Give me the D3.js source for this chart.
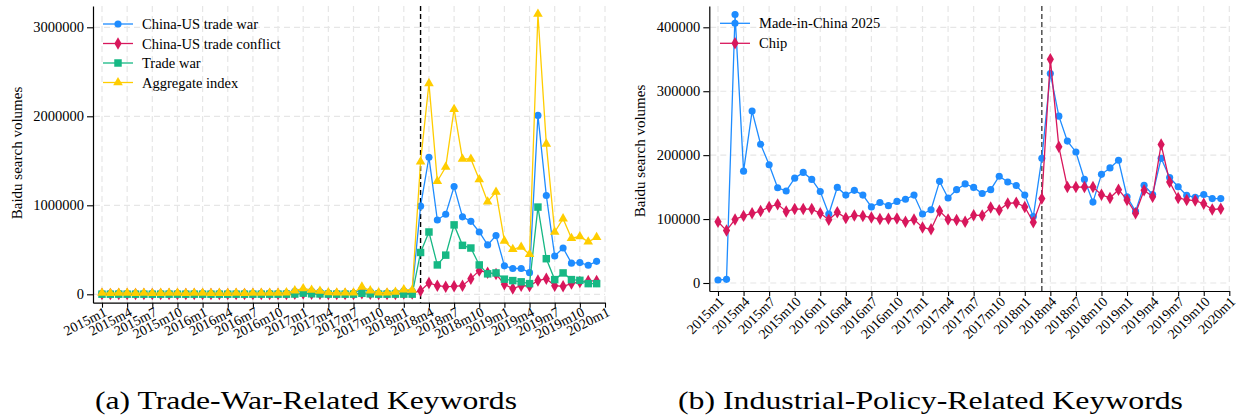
<!DOCTYPE html>
<html>
<head>
<meta charset="utf-8">
<script src="https://cdn.jsdelivr.net/npm/d3@7"></script>
<style>
  html, body { margin: 0; padding: 0; background: #fff; }
  svg { display: block; }
  text { font-family: "Liberation Serif", "Times New Roman", serif; fill: #000; }
</style>
</head>
<body>
<svg id="chart" width="1237" height="418"></svg>
<script>
// Monthly categories, 2015m1 .. 2019m12
const months = [];
for (let yr = 2015; yr <= 2019; yr++) for (let m = 1; m <= 12; m++) months.push(yr + "m" + m);

const xTickLabels = ["2015m1","2015m4","2015m7","2015m10","2016m1","2016m4","2016m7","2016m10",
  "2017m1","2017m4","2017m7","2017m10","2018m1","2018m4","2018m7","2018m10",
  "2019m1","2019m4","2019m7","2019m10","2020m1"];
const eventMonth = "2018m3";

// Panel (a): trade-war-related keywords
const yTicksA = [0, 1000000, 2000000, 3000000];
const chinaUSTradeWar = [
  9000, 8000, 10000, 9000, 8000, 9000, 8000, 9000, 10000, 9000, 8000, 9000,
  9000, 8000, 9000, 8000, 9000, 8000, 9000, 9000, 10000, 10000, 14000, 33000,
  43000, 36000, 28000, 15000, 12000, 12000, 12000, 60000, 30000, 14000, 13000, 20000,
  40000, 37000, 990000, 1540000, 835000, 900000, 1210000, 870000, 820000, 700000, 555000, 660000,
  320000, 290000, 290000, 243000, 2010000, 1110000, 430000, 520000, 350000, 356000, 326000, 370000
];
const chinaUSTradeConflict = [
  3000, 2500, 3000, 3000, 2500, 3000, 3000, 2500, 3000, 3000, 2500, 3000,
  3000, 3000, 2500, 3000, 3000, 2500, 3000, 3000, 3000, 3000, 3000, 5000,
  10000, 6000, 5000, 3000, 3000, 3000, 3000, 12000, 6000, 3000, 3000, 4000,
  10000, 10000, 40000, 127000, 97000, 86000, 90000, 97000, 176000, 266000, 243000, 228000,
  112000, 64000, 97000, 94000, 154000, 176000, 97000, 90000, 120000, 139000, 150000, 150000
];
const tradeWar = [
  1500, 1200, 1500, 1400, 1300, 1500, 1200, 1500, 1500, 1400, 1300, 1500,
  1500, 1300, 1400, 1300, 1500, 1300, 1500, 1400, 1500, 1500, 1500, 3000,
  13000, 6000, 4000, 2000, 1500, 1500, 1500, 11000, 5000, 1500, 1500, 2000,
  2000, 2000, 470000, 700000, 330000, 440000, 780000, 550000, 520000, 330000, 230000, 240000,
  170000, 154000, 140000, 120000, 980000, 400000, 165000, 240000, 165000, 157000, 120000, 120000
];
const aggregateIndex = [
  13500, 12000, 14500, 13500, 12000, 13500, 12500, 13000, 14500, 13500, 12000, 13500,
  13500, 12500, 13000, 12500, 13500, 12000, 13500, 13500, 14500, 14500, 19000, 41000,
  66000, 48000, 37000, 20000, 16500, 16500, 16500, 83000, 41000, 18500, 17500, 26000,
  52000, 49000, 1490000, 2370000, 1270000, 1430000, 2080000, 1520000, 1520000, 1290000, 1040000, 1150000,
  600000, 506000, 532000, 450000, 3150000, 1690000, 700000, 850000, 630000, 650000, 590000, 640000
];

// Panel (b): industrial-policy-related keywords
const yTicksB = [0, 100000, 200000, 300000, 400000];
const madeInChina2025 = [
  4700, 5700, 420000, 175000, 269000, 217000, 185000, 149000, 144000, 164000, 173000, 162000,
  143000, 108000, 149500, 137500, 145000, 137500, 119000, 126000, 121000, 127600, 131000, 137500,
  108000, 114600, 159000, 133000, 146000, 155000, 149500, 140000, 146000, 167000, 158000, 152600,
  137500, 104000, 195000, 327600, 261000, 222000, 205000, 162000, 126600, 170000, 180000, 192000,
  135000, 112000, 153000, 138500, 195000, 165000, 150500, 137000, 134000, 138500, 132000, 132000
];
const chip = [
  95800, 82000, 99500, 105000, 109000, 112500, 119000, 123000, 112000, 115600, 115600, 115600,
  109000, 99000, 110500, 101600, 105700, 104700, 102600, 100000, 100500, 101000, 95800, 99500,
  87000, 84000, 112500, 99500, 98400, 95800, 106000, 105700, 118000, 114000, 124500, 125500,
  119000, 95000, 132000, 350000, 213000, 150000, 150000, 150000, 150000, 138000, 133000, 146000,
  130000, 109000, 145000, 135000, 216700, 158000, 133000, 130000, 129000, 124000, 115000, 116000
];

const BLUE = "#1e8cff", RED = "#d8175c", GREEN = "#16b884", GOLD = "#ffcd00";

const monthIndex = s => { const p = s.split("m").map(Number); return (p[0] - 2015) * 12 + p[1] - 1; };

const svg = d3.select("#chart");
svg.append("rect").attr("width", 1237).attr("height", 418).attr("fill", "#fff");

function drawPanel(cfg) {
  const g = svg.append("g");
  const step = (cfg.x60 - cfg.x0) / 60;
  const x = d3.scaleLinear().domain([-(cfg.x0 - cfg.left) / step, 60]).range([cfg.left, cfg.x60]);
  const perUnit = (cfg.y0 - cfg.yRefPx) / cfg.yRef;
  const y = d3.scaleLinear()
    .domain([-(cfg.bottom - cfg.y0) / perUnit, (cfg.y0 - cfg.top) / perUnit])
    .range([cfg.bottom, cfg.top]);

  // grid
  const grid = g.append("g").attr("stroke", "#e6e6e6").attr("stroke-width", 1.2)
    .attr("stroke-dasharray", "6,4").attr("fill", "none");
  cfg.yTicks.forEach(v => grid.append("line")
    .attr("x1", cfg.left + 1).attr("x2", cfg.x60).attr("y1", y(v)).attr("y2", y(v)));
  xTickLabels.forEach(l => grid.append("line")
    .attr("x1", x(monthIndex(l))).attr("x2", x(monthIndex(l))).attr("y1", cfg.top).attr("y2", cfg.bottom));

  // event line
  g.append("line").attr("x1", x(monthIndex(eventMonth))).attr("x2", x(monthIndex(eventMonth)))
    .attr("y1", cfg.top).attr("y2", cfg.bottom)
    .attr("stroke", cfg.eventColor).attr("stroke-width", 1.4).attr("stroke-dasharray", "5,3");

  // series
  const line = d3.line().x((d, i) => x(i)).y(d => y(d));
  cfg.series.forEach(s => {
    g.append("path").datum(s.values).attr("d", line)
      .attr("fill", "none").attr("stroke", s.color).attr("stroke-width", 1.3);
    const sym = d3.symbol().type(s.symbol).size(s.size);
    g.append("g").selectAll("path").data(s.values).join("path")
      .attr("d", sym).attr("fill", s.color)
      .attr("transform", (d, i) => `translate(${x(i)},${y(d)})`);
  });

  // axes
  const ya = g.append("g").attr("transform", `translate(${cfg.left},0)`)
    .call(d3.axisLeft(y).tickValues(cfg.yTicks).tickSize(6).tickSizeOuter(0).tickPadding(3)
      .tickFormat(d3.format("d")));
  const xa = g.append("g").attr("transform", `translate(0,${cfg.bottom})`)
    .call(d3.axisBottom(x).tickValues(xTickLabels.map(monthIndex)).tickSize(5).tickSizeOuter(0)
      .tickFormat((d, i) => xTickLabels[i]));
  [ya, xa].forEach(a => {
    a.select(".domain").attr("stroke", "#000").attr("stroke-width", 1.2);
    a.selectAll(".tick line").attr("stroke", "#000").attr("stroke-width", 1.1);
    a.selectAll("text").attr("fill", "#000").style("font-family", '"Liberation Serif", serif');
  });
  ya.selectAll("text").style("font-size", "14.5px");
  xa.selectAll("text").style("font-size", cfg.xFont + "px")
    .attr("text-anchor", "end").attr("x", 3).attr("y", 8).attr("dy", "0.35em")
    .attr("transform", `rotate(${-cfg.angle},3,8)`);

  // y-axis title
  g.append("text").attr("transform", `translate(${cfg.titleX},${cfg.titleY}) rotate(-90)`)
    .attr("text-anchor", "middle").attr("dy", "0.35em").style("font-size", "15px")
    .text("Baidu search volumes");

  // legend
  cfg.series.forEach((s, k) => {
    const ly = cfg.legY + k * cfg.legStep;
    g.append("line").attr("x1", cfg.legX).attr("x2", cfg.legX + 30).attr("y1", ly).attr("y2", ly)
      .attr("stroke", s.color).attr("stroke-width", 1.3);
    g.append("path").attr("d", d3.symbol().type(s.symbol).size(s.size)).attr("fill", s.color)
      .attr("transform", `translate(${cfg.legX + 15},${ly})`);
    g.append("text").attr("x", cfg.legX + 39).attr("y", ly).attr("dy", "0.35em")
      .style("font-size", "14.5px").text(s.name);
  });

  // caption
  g.append("text").attr("x", cfg.capX).attr("y", 409).attr("text-anchor", "middle")
    .style("font-size", "25px").attr("textLength", cfg.capW).attr("lengthAdjust", "spacingAndGlyphs")
    .text(cfg.caption);
}

drawPanel({
  left: 93, x0: 102, x60: 605, top: 6, bottom: 302.7, y0: 294.3, yRef: 3000000, yRefPx: 27.3,
  yTicks: yTicksA, eventColor: "#000", angle: 27, xFont: 14,
  titleX: 17, titleY: 153, legX: 103, legY: 24, legStep: 19.5,
  capX: 306, capW: 422, caption: "(a) Trade-War-Related Keywords",
  series: [
    { name: "China-US trade war", values: chinaUSTradeWar, color: BLUE, symbol: d3.symbolCircle, size: 40 },
    { name: "China-US trade conflict", values: chinaUSTradeConflict, color: RED, symbol: d3.symbolDiamond, size: 45 },
    { name: "Trade war", values: tradeWar, color: GREEN, symbol: d3.symbolSquare, size: 56 },
    { name: "Aggregate index", values: aggregateIndex, color: GOLD, symbol: d3.symbolTriangle, size: 40 }
  ]
});

drawPanel({
  left: 709.3, x0: 718, x60: 1229.3, top: 6, bottom: 291, y0: 283, yRef: 400000, yRefPx: 27.3,
  yTicks: yTicksB, eventColor: "#444", angle: 45, xFont: 14,
  titleX: 640, titleY: 151, legX: 720, legY: 23.3, legStep: 20,
  capX: 930.5, capW: 505, caption: "(b) Industrial-Policy-Related Keywords",
  series: [
    { name: "Made-in-China 2025", values: madeInChina2025, color: BLUE, symbol: d3.symbolCircle, size: 40 },
    { name: "Chip", values: chip, color: RED, symbol: d3.symbolDiamond, size: 45 }
  ]
});
</script>
</body>
</html>
